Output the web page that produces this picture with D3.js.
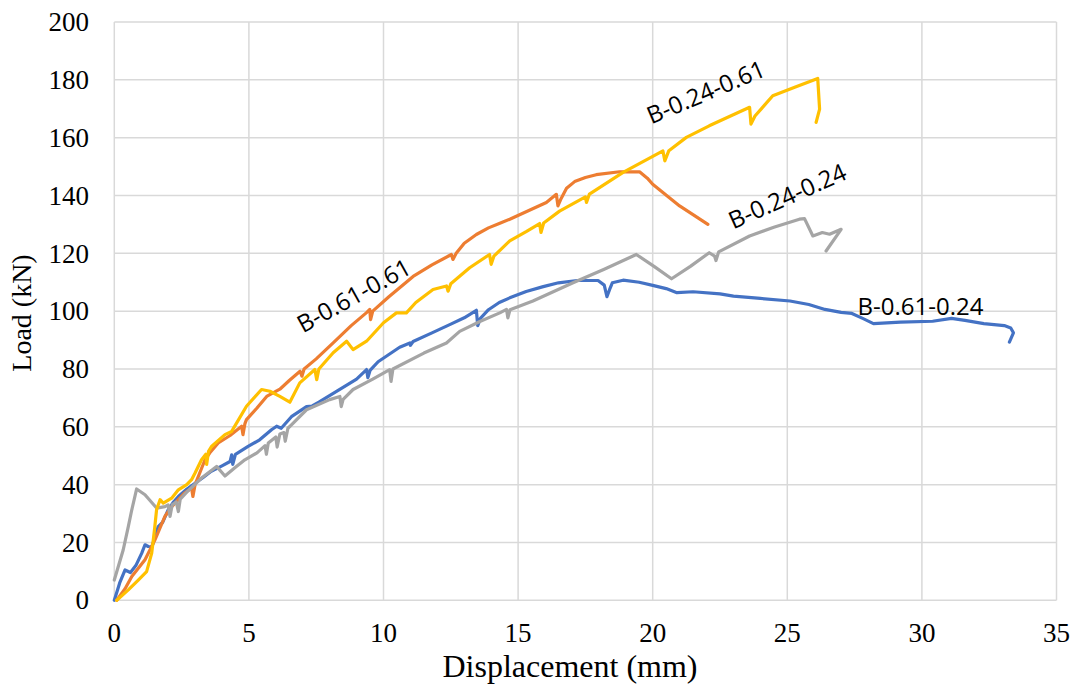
<!DOCTYPE html>
<html><head><meta charset="utf-8">
<script src="https://cdn.jsdelivr.net/npm/d3@7/dist/d3.min.js"></script>
<style>
body{margin:0;background:#fff}svg{display:block}
.serif{font-family:"Liberation Serif","Times New Roman",Tinos,"DejaVu Serif",serif;}
.sans{font-family:"Open Sans","Noto Sans",sans-serif;}
</style>
</head><body>
<script>
// ---- data (displacement mm, load kN) ----
const xTicks = [0,5,10,15,20,25,30,35];
const yTicks = [0,20,40,60,80,100,120,140,160,180,200];

const seriesNames = ["B-0.61-0.24","B-0.61-0.61","B-0.24-0.24","B-0.24-0.61"];
const seriesColors = ["#4472C4","#ED7D31","#A5A5A5","#FFC000"];

const blue = [[0,0],[0.05,1.5],[0.2,6],[0.4,10.5],[0.6,9.6],[0.8,12],[1.02,16.3],[1.14,19.2],[1.26,18.6],[1.4,18.5],[1.63,25.5],[1.8,27],[2.0,31.3],[2.2,34],[2.38,35.9],[2.7,38.5],[3.0,40.5],[3.3,42.5],[3.6,44.6],[4.0,46.5],[4.3,48],[4.36,50.3],[4.4,47],[4.5,50.5],[4.97,53.2],[5.4,55.5],[5.84,59],[6.03,60.2],[6.2,59.5],[6.58,63.5],[7.14,67],[7.35,67.2],[7.6,68.5],[8.3,72.5],[9.0,76.5],[9.37,79.8],[9.42,77],[9.5,79.5],[9.8,82.5],[10.2,85],[10.6,87.5],[10.98,89],[11.0,88.2],[11.1,89.5],[11.8,92.5],[12.5,95.5],[13.0,97.7],[13.45,100.3],[13.5,95],[13.6,97.5],[13.9,100.5],[14.3,103],[14.69,104.6],[15.3,106.8],[15.9,108.4],[16.5,109.8],[17.2,110.6],[17.97,110.6],[18.2,109],[18.3,105],[18.4,107.5],[18.5,109.8],[18.9,110.7],[19.5,110],[20.0,108.9],[20.5,107.8],[20.9,106.4],[21.5,106.7],[22.5,106],[23.0,105.2],[24.0,104.4],[25.1,103.5],[25.8,102.3],[26.4,100.6],[27.0,99.6],[27.4,99.2],[27.8,97.5],[28.2,95.7],[29.2,96.2],[30.4,96.5],[31.1,97.5],[31.6,96.8],[32.3,95.7],[33.06,95],[33.3,94.2],[33.4,92.5],[33.25,89.3]];

const orange = [[0.09,0],[0.4,4],[0.65,8.2],[1.14,14],[1.51,20.9],[1.88,29],[2.1,32],[2.38,34.8],[2.6,37],[2.87,38.8],[2.92,35.9],[3.0,40],[3.37,48.6],[3.55,51],[3.86,54.4],[4.3,57],[4.73,60.2],[4.78,57.3],[4.85,61],[4.91,62.5],[5.3,66.5],[5.66,70.5],[6.15,73],[6.5,76],[6.9,79.2],[6.97,77.5],[7.05,80],[7.5,83.5],[8.13,89],[8.8,95],[9.37,99.5],[9.49,100.6],[9.52,97.1],[9.6,100],[10.2,105],[11.1,112],[11.8,116],[12.52,119.6],[12.58,117.9],[12.7,120],[13.0,123.5],[13.45,126.5],[13.9,128.8],[14.3,130.3],[14.69,131.8],[15.4,134.8],[16.05,137.6],[16.42,140.4],[16.48,136.4],[16.6,139],[16.8,142.5],[17.1,144.8],[17.5,146.2],[17.9,147.2],[18.77,148.2],[19.51,148.2],[19.8,146],[20.0,143.9],[21.0,136.4],[22.05,130]];

const gray = [[0,7],[0.33,17.4],[0.52,25.5],[0.65,31.3],[0.83,38.5],[1.14,36.5],[1.57,31.9],[1.88,32.4],[2.0,33],[2.07,29],[2.15,33],[2.3,34],[2.38,30.7],[2.45,35],[2.7,37.5],[3.24,42.3],[3.8,46.3],[4.11,43],[4.5,46],[4.85,48.6],[5.3,51],[5.6,53.5],[5.65,50.5],[5.72,54.4],[6.0,56.5],[6.05,53],[6.15,57.5],[6.3,58],[6.35,55],[6.45,59.5],[6.58,60.7],[7.14,65.9],[8.0,69.4],[8.38,70.5],[8.43,67],[8.5,69.5],[8.87,72.9],[9.6,76.5],[10.23,79.8],[10.28,75.7],[10.35,80],[11.5,85.5],[12.34,89],[12.83,93],[13.6,96.5],[14.32,99.4],[14.57,100.6],[14.62,97.7],[14.7,100.5],[15.55,103.5],[17.04,109.8],[18.2,114.5],[19.39,119.6],[20.05,115.5],[20.7,111.2],[21.4,115.5],[22.1,120.2],[22.3,119],[22.35,117.5],[22.45,120.5],[23.6,126],[24.5,129],[25.45,131.8],[25.64,132],[25.95,126],[26.3,127.2],[26.57,126.6],[27.0,128.3],[26.44,120.8]];

const yellow = [[0.09,0],[0.52,3.6],[0.89,7],[1.2,9.9],[1.39,16.3],[1.5,25],[1.57,31.3],[1.7,34.8],[1.82,33.6],[2.13,35.3],[2.38,38.2],[2.69,40],[2.87,41.7],[3.0,44],[3.24,48.6],[3.4,50.5],[3.43,47],[3.5,51.5],[3.61,53.2],[4.11,57.3],[4.36,58.4],[4.91,67.1],[5.47,72.9],[5.78,72.3],[6.15,70.5],[6.52,68.5],[6.89,75.2],[7.45,79.8],[7.52,76.3],[7.6,80],[8.13,85.6],[8.63,89.6],[8.87,86.7],[9.37,89.6],[10.0,96],[10.48,99.4],[10.85,99.4],[11.2,103],[11.84,107.5],[12.34,108.7],[12.4,106.9],[12.5,109.5],[13.2,115],[13.94,119.6],[14.0,116.2],[14.1,119],[14.69,124.3],[15.3,127.5],[15.8,130.3],[15.85,127.2],[15.95,130.5],[16.54,134.6],[17.5,139.5],[17.54,137.6],[17.65,140.5],[18.9,148],[20.38,155.4],[20.45,152],[20.6,155.5],[21.25,160.1],[22.1,164.1],[23.6,170.5],[23.65,164.7],[23.8,167.5],[24.46,174.5],[25.3,177.5],[26.13,180.5],[26.2,169.9],[26.07,165.3]];

const seriesData = [blue, orange, gray, yellow];

// ---- layout ----
const W = 1078, H = 684;
const x0 = 114.3, x1 = 1056.5, y0 = 600.3, y1 = 22;
const x = d3.scaleLinear().domain([0,35]).range([x0,x1]);
const y = d3.scaleLinear().domain([0,200]).range([y0,y1]);

const svg = d3.select("body").append("svg").attr("width",W).attr("height",H);

const grid = "#D9D9D9";
svg.append("g").selectAll("line").data(yTicks).join("line")
  .attr("x1",x0).attr("x2",x1).attr("y1",d=>y(d)).attr("y2",d=>y(d))
  .attr("stroke",grid).attr("stroke-width",1.5);
svg.append("g").selectAll("line").data(xTicks).join("line")
  .attr("y1",y0).attr("y2",y1).attr("x1",d=>x(d)).attr("x2",d=>x(d))
  .attr("stroke",grid).attr("stroke-width",1.5);

svg.append("g").selectAll("text").data(yTicks).join("text")
  .attr("class","serif")
  .attr("x",89).attr("y",d=>y(d)).attr("dy","0.34em")
  .attr("text-anchor","end").attr("font-size",27)
  .attr("fill","#000").text(d=>d);
svg.append("g").selectAll("text").data(xTicks).join("text")
  .attr("class","serif")
  .attr("x",d=>x(d)).attr("y",642)
  .attr("text-anchor","middle").attr("font-size",27)
  .attr("fill","#000").text(d=>d);

svg.append("text").attr("class","serif").attr("x",570).attr("y",677).attr("text-anchor","middle")
  .attr("font-size",32).text("Displacement (mm)");
svg.append("text").attr("class","serif").attr("transform","translate(31,313) rotate(-90)").attr("text-anchor","middle")
  .attr("font-size",28).text("Load (kN)");

const line = d3.line().x(d=>x(d[0])).y(d=>y(d[1]));
svg.append("g").selectAll("path").data(seriesData).join("path")
  .attr("d",line).attr("fill","none")
  .attr("stroke",(d,i)=>seriesColors[i]).attr("stroke-width",3.2)
  .attr("stroke-linejoin","round").attr("stroke-linecap","round");

// annotations (data coords of label centres, rotation)
const labels = [
  {t:"B-0.61-0.24", dx:29.95, dy:101.5, a:0},
  {t:"B-0.61-0.61", dx:8.9, dy:105.4, a:-29},
  {t:"B-0.24-0.61", dx:21.97, dy:175.8, a:-23},
  {t:"B-0.24-0.24", dx:25.0, dy:139.8, a:-24}
];
svg.append("g").selectAll("text").data(labels).join("text")
  .attr("class","sans")
  .attr("transform",d=>`translate(${x(d.dx)},${y(d.dy)}) rotate(${d.a})`)
  .attr("text-anchor","middle").attr("dy","0.36em")
  .attr("font-size",24)
  .attr("fill","#000").text(d=>d.t);
</script>
</body></html>
